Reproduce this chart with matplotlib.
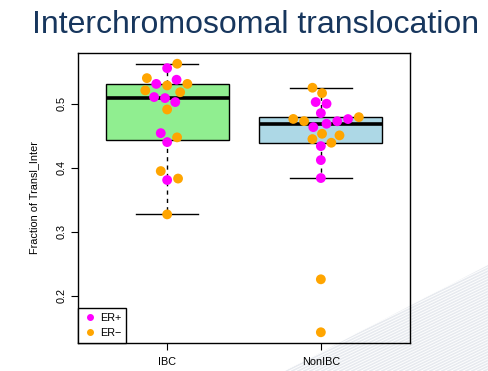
import numpy as np
import matplotlib
matplotlib.use("Agg")
import matplotlib.pyplot as plt
from matplotlib.patches import Polygon

plt.rcParams['font.family'] = ['Liberation Sans', 'DejaVu Sans']

# values
groups = ["IBC", "NonIBC"]
ibc_er_pos = [0.5556, 0.5375, 0.531, 0.5104, 0.5088, 0.5026, 0.454, 0.440, 0.3807]
ibc_er_neg = [0.5625, 0.540, 0.5286, 0.531, 0.5208, 0.518, 0.491, 0.4474, 0.3947, 0.383, 0.327]
non_er_pos = [0.5026, 0.500, 0.4853, 0.4726, 0.476, 0.4687, 0.4634, 0.4337, 0.4119, 0.3838]
non_er_neg = [0.525, 0.5166, 0.479, 0.4762, 0.4728, 0.453, 0.4447, 0.4505, 0.439, 0.2255, 0.1427]
box_colors = ["#90EE90", "#ADD8E6"]
er_colors = {"ER+": "#FF00FF", "ER\u2212": "#FFA500"}
yticks = [0.2, 0.3, 0.4, 0.5]


def fivenum(v):
    v = np.sort(np.asarray(v))
    n = len(v)
    n4 = np.floor((n + 3) / 2) / 2
    d = np.array([1, n4, (n + 1) / 2, n + 1 - n4, n])
    return 0.5 * (v[np.floor(d).astype(int) - 1] + v[np.ceil(d).astype(int) - 1])


def box_stats(v, label):
    lo, q1, med, q3, hi = fivenum(v)
    iqr = q3 - q1
    v = np.asarray(v)
    wl = v[v >= q1 - 1.5 * iqr].min()
    wh = v[v <= q3 + 1.5 * iqr].max()
    return dict(med=med, q1=q1, q3=q3, whislo=wl, whishi=wh, fliers=[], label=label)


fig = plt.figure(figsize=(4.88, 3.71), dpi=100)

# faint diagonal stripes of the slide background (bottom right)
W, H = 488, 371
clip = Polygon([(285 / W, 0), (1, 0), (1, 106 / H)], closed=True,
               transform=fig.transFigure, facecolor="none", edgecolor="none")
fig.add_artist(clip)
for k in range(-10, 40):
    x0 = 250 + k * 6
    ln = plt.Line2D([x0 / W, (x0 + 250) / W], [0, 120 / H], transform=fig.transFigure,
                    color="#E7EAEF", lw=1.2, zorder=0)
    ln.set_clip_path(clip)
    fig.add_artist(ln)

fig.text(0.523, 1 - 33 / H, "Interchromosomal translocation", ha="center", va="baseline",
         fontsize=23, color="#17365D")

ax = fig.add_axes([78 / W, 28 / H, 332 / W, 290 / H])
ax.patch.set_alpha(0)

all_vals = ibc_er_pos + ibc_er_neg + non_er_pos + non_er_neg
rng = max(all_vals) - min(all_vals)
ax.set_ylim(min(all_vals) - 0.04 * rng, max(all_vals) + 0.04 * rng)
ax.set_xlim(0.42, 2.58)

data = [ibc_er_pos + ibc_er_neg, non_er_pos + non_er_neg]
stats = [box_stats(v, g) for v, g in zip(data, groups)]
bp = ax.bxp(stats, positions=[1, 2], widths=0.8, capwidths=0.4, showfliers=False,
            patch_artist=True,
            boxprops=dict(edgecolor="black", linewidth=1.0),
            whiskerprops=dict(color="black", linestyle=(0, (3, 3)), linewidth=1.0),
            capprops=dict(color="black", linewidth=1.0),
            medianprops=dict(color="black", linewidth=2.6, solid_capstyle="butt"))
for patch, c in zip(bp["boxes"], box_colors):
    patch.set_facecolor(c)

fig.canvas.draw()


def swarm(vals, d=11.0):
    # beeswarm "swarm" placement, ascending priority, in pixel space
    vals = np.asarray(vals)
    ypx = ax.transData.transform(np.column_stack([np.ones(len(vals)), vals]))[:, 1]
    order = np.argsort(vals, kind="stable")
    px, py = [], []
    xs = np.zeros(len(vals))
    for i in order:
        yi = ypx[i]
        cands = [0.0]
        ax_ = np.array(px)
        ay_ = np.array(py)
        if len(ax_):
            dy = np.abs(ay_ - yi)
            near = dy < d
            off = np.sqrt(d ** 2 - dy[near] ** 2)
            cands += list(ax_[near] + off) + list(ax_[near] - off)
        best = None
        for c in cands:
            if len(ax_) and np.any((ax_ - c) ** 2 + (ay_ - yi) ** 2 < 0.999 * d ** 2):
                continue
            if best is None or abs(c) < abs(best):
                best = c
        xs[i] = best
        px.append(best)
        py.append(yi)
    unit = ax.transData.transform((1, 0))[0] - ax.transData.transform((0, 0))[0]
    return xs / unit


for pos, (p, n) in enumerate([(ibc_er_pos, ibc_er_neg), (non_er_pos, non_er_neg)], start=1):
    vals = p + n
    cols = [er_colors["ER+"]] * len(p) + [er_colors["ER\u2212"]] * len(n)
    off = swarm(vals)
    ax.scatter(pos + off, vals, s=50, c=cols, edgecolors="none", zorder=5)

ax.set_yticks(yticks)
ax.set_yticklabels([str(t) for t in yticks], rotation=90, va="center")
ax.set_xticks([1, 2])
ax.set_xticklabels(groups)
ax.tick_params(labelsize=7.8, length=5, width=0.8, pad=5)
ax.tick_params(axis="y", pad=3)
ax.set_ylabel("Fraction of Transl_Inter", fontsize=7.8, labelpad=13)
for s in ax.spines.values():
    s.set_linewidth(1.0)

handles = [plt.Line2D([], [], marker="o", ls="none", color=c, markersize=4) for c in er_colors.values()]
leg = ax.legend(handles, list(er_colors.keys()), loc="lower left", borderaxespad=0,
                fontsize=7.8, frameon=True, fancybox=False, edgecolor="black",
                framealpha=1, handletextpad=0.3, handlelength=1.2, borderpad=0.5,
                labelspacing=0.4)
leg.get_frame().set_linewidth(1.0)

fig.savefig("out.png", dpi=100)
